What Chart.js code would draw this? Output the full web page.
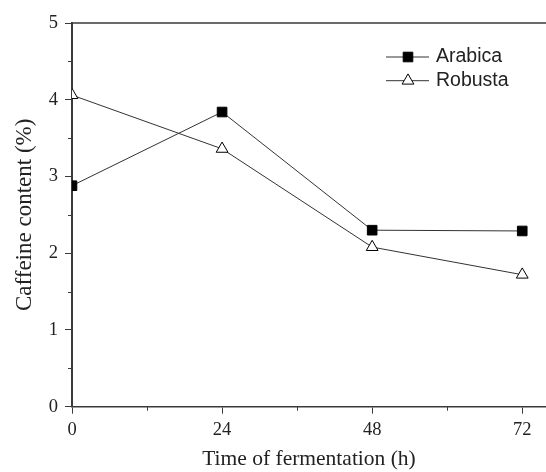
<!DOCTYPE html>
<html>
<head>
<meta charset="utf-8">
<script src="https://cdn.jsdelivr.net/npm/chart.js@4"></script>
<style>
  body { margin: 0; background: #fff; }
  #wrap { width: 546px; height: 472px; position: relative; }
</style>
</head>
<body>
<div id="wrap"><canvas id="chart"></canvas></div>
<script>
// data
var hours = [0, 24, 48, 72];
var arabica = [2.88, 3.84, 2.30, 2.29];
var robusta = [4.06, 3.36, 2.08, 1.72];
var xTicks = [0, 24, 48, 72];
var xMinor = [12, 36, 60];
var yMinor = [0.5, 1.5, 2.5, 3.5, 4.5];

var axisColor = '#3a3a3a';
var serif = "'Liberation Serif', 'Times New Roman', serif";

function toPoints(ys) {
  return hours.map(function (h, i) { return { x: h, y: ys[i] }; });
}

// minor ticks, top frame line and legend
var extras = {
  id: 'extras',
  afterDraw: function (chart) {
    var ctx = chart.ctx;
    var area = chart.chartArea;
    var xs = chart.scales.x, ys = chart.scales.y;
    ctx.save();
    ctx.strokeStyle = axisColor;
    ctx.lineWidth = 1.5;
    ctx.beginPath();
    ctx.moveTo(area.left, area.top);
    ctx.lineTo(chart.width, area.top);
    ctx.stroke();

    ctx.lineWidth = 1;
    ctx.beginPath();
    yMinor.forEach(function (v) {
      var py = Math.round(ys.getPixelForValue(v)) + 0.5;
      ctx.moveTo(area.left - 4, py);
      ctx.lineTo(area.left, py);
    });
    xMinor.forEach(function (v) {
      var px = Math.round(xs.getPixelForValue(v)) + 0.5;
      ctx.moveTo(px, area.bottom);
      ctx.lineTo(px, area.bottom + 4);
    });
    ctx.stroke();

    // legend: line with marker, then label
    var lx = area.right - 160;
    var ly = area.top + 34;
    chart.data.datasets.forEach(function (ds, i) {
      var y = ly + i * 23.7;
      ctx.strokeStyle = '#333';
      ctx.lineWidth = 1;
      ctx.beginPath();
      ctx.moveTo(lx, y);
      ctx.lineTo(lx + 43, y);
      ctx.stroke();
      ctx.fillStyle = ds.pointBackgroundColor;
      ctx.strokeStyle = ds.pointBorderColor;
      ctx.lineWidth = 1;
      Chart.helpers.drawPoint(ctx, {
        pointStyle: ds.pointStyle, radius: ds.pointRadius, borderWidth: 1, rotation: 0
      }, lx + 22, y);
      ctx.fillStyle = '#222';
      ctx.font = "19.5px 'Liberation Sans', Arial, sans-serif";
      ctx.textBaseline = 'middle';
      ctx.textAlign = 'left';
      ctx.fillText(ds.label, lx + 50, y);
    });
    ctx.restore();
  }
};

new Chart(document.getElementById('chart'), {
  type: 'line',
  data: {
    datasets: [
      {
        label: 'Arabica',
        data: toPoints(arabica),
        borderColor: '#333',
        borderWidth: 1,
        pointStyle: 'rect',
        pointRadius: 6.8,
        pointBackgroundColor: '#000',
        pointBorderColor: '#000',
        pointBorderWidth: 1,
        tension: 0,
        clip: 0
      },
      {
        label: 'Robusta',
        data: toPoints(robusta),
        borderColor: '#333',
        borderWidth: 1,
        pointStyle: 'triangle',
        pointRadius: 6.8,
        pointBackgroundColor: '#fff',
        pointBorderColor: '#000',
        pointBorderWidth: 1,
        tension: 0,
        clip: 0
      }
    ]
  },
  options: {
    responsive: true,
    maintainAspectRatio: false,
    animation: false,
    devicePixelRatio: 1,
    layout: { autoPadding: false, padding: { top: 23, right: 0, bottom: 0, left: 0 } },
    plugins: {
      legend: { display: false },
      tooltip: { enabled: false }
    },
    scales: {
      x: {
        type: 'linear',
        min: 0,
        max: 75.8,
        afterFit: function (s) {
          s.height = 65.3;
          s.paddingLeft = 0;
          s.paddingRight = 0;
        },
        afterBuildTicks: function (s) {
          s.ticks = xTicks.map(function (v) { return { value: v }; });
        },
        ticks: {
          includeBounds: false,
          padding: 5,
          color: '#222',
          font: { family: serif, size: 18.5 },
          maxRotation: 0
        },
        grid: { drawOnChartArea: false, drawTicks: true, tickLength: 7, color: axisColor, lineWidth: 1 },
        border: { display: true, color: axisColor, width: 1.5 },
        title: {
          display: true,
          text: 'Time of fermentation (h)',
          color: '#222',
          font: { family: serif, size: 21.5 },
          padding: { top: 0, bottom: 0 }
        }
      },
      y: {
        min: 0,
        max: 5,
        afterFit: function (s) { s.width = 72; },
        ticks: {
          stepSize: 1,
          padding: 7,
          color: '#222',
          font: { family: serif, size: 18.5 }
        },
        grid: { drawOnChartArea: false, drawTicks: true, tickLength: 7, color: axisColor, lineWidth: 1 },
        border: { display: true, color: axisColor, width: 2 },
        title: {
          display: true,
          text: 'Caffeine content (%)',
          color: '#222',
          font: { family: serif, size: 23 },
          padding: { top: 11.5, bottom: 0 }
        }
      }
    }
  },
  plugins: [extras]
});
</script>
</body>
</html>
